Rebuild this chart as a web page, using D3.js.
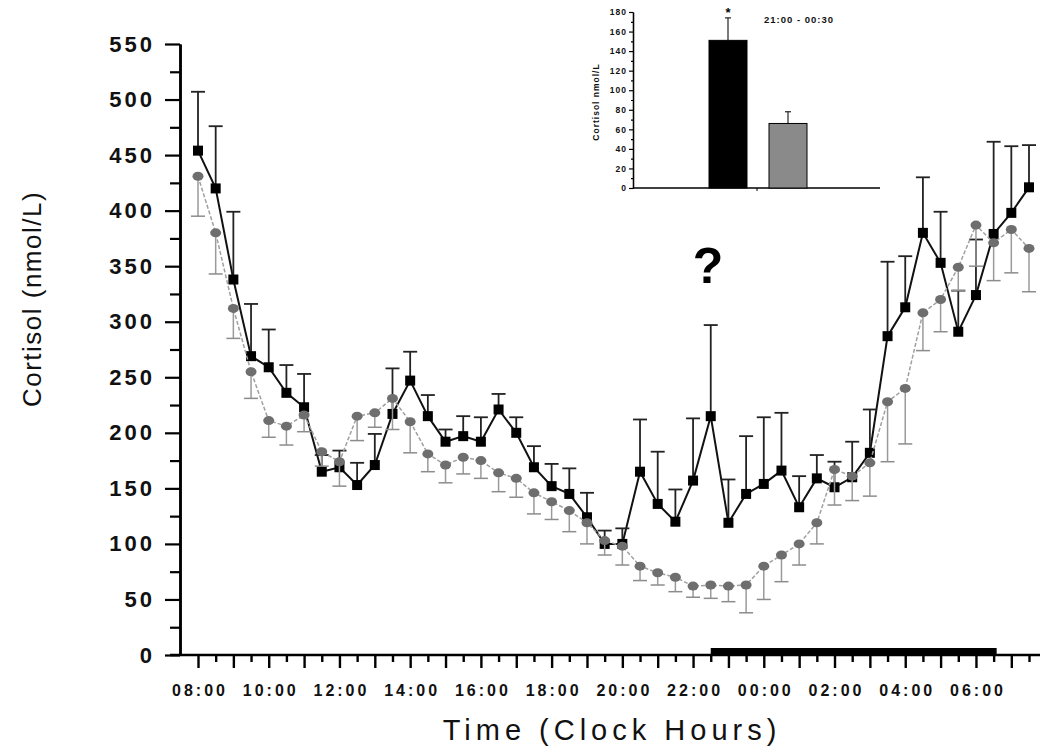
<!DOCTYPE html>
<html>
<head>
<meta charset="utf-8">
<script src="https://cdn.jsdelivr.net/npm/d3@7"></script>
<style>
  body { margin: 0; background: #fff; }
  svg { display: block; font-family: "Liberation Sans", Arial, sans-serif; }
</style>
</head>
<body>
<div id="chart"></div>
<script>
var svgWidth = 1040;
var svgHeight = 746;

// half-hourly sample times
var times = ["08:00","08:30","09:00","09:30","10:00","10:30","11:00","11:30","12:00","12:30",
  "13:00","13:30","14:00","14:30","15:00","15:30","16:00","16:30","17:00","17:30",
  "18:00","18:30","19:00","19:30","20:00","20:30","21:00","21:30","22:00","22:30",
  "23:00","23:30","00:00","00:30","01:00","01:30","02:00","02:30","03:00","03:30",
  "04:00","04:30","05:00","05:30","06:00","06:30","07:00","07:30"];
var xTickLabels = ["08:00","10:00","12:00","14:00","16:00","18:00","20:00","22:00","00:00","02:00","04:00","06:00"];
var yTicks = [0,50,100,150,200,250,300,350,400,450,500,550];

// black squares (mean, top of SE bar)
var deprived = [454,420,338,269,259,236,223,165,169,153,171,217,247,215,192,197,192,221,200,169,
  152,145,124,100,100,165,136,120,157,215,119,145,154,166,133,159,151,160,182,287,
  313,380,353,291,324,379,398,421];
var deprivedTop = [507,476,399,316,293,261,253,180,184,173,199,258,273,234,203,215,214,235,214,188,
  172,168,146,112,114,212,183,149,213,297,158,197,214,218,161,180,174,192,221,354,
  359,430,399,328,374,462,458,459];

// grey circles (mean, bottom of SE bar)
var control = [431,380,312,255,211,206,216,183,174,215,218,231,210,181,171,178,175,164,159,146,
  138,130,119,103,98,80,74,70,62,63,62,63,80,90,100,119,167,161,173,228,
  240,308,320,349,387,371,383,366];
var controlBottom = [395,343,285,231,196,189,201,170,152,193,205,203,182,165,155,163,159,147,142,127,
  122,111,100,90,81,67,63,57,52,51,48,38,50,66,81,100,135,139,143,174,
  190,274,291,328,350,337,344,327];

// sleep period bar on the time axis
var sleepPeriod = ["22:30","06:30"];

// inset: 21:00 - 00:30 averages
var insetGroups = ["deprived","control"];
var insetMeans = [151,66];
var insetTops = [174,78];
var insetTicks = [0,20,40,60,80,100,120,140,160,180];

var svg = d3.select("#chart")
  .append("svg")
  .attr("width", svgWidth)
  .attr("height", svgHeight);

svg.append("rect").attr("width", svgWidth).attr("height", svgHeight).attr("fill", "#fff");

var x = d3.scalePoint().domain(times).range([198, 1029]);
var y = d3.scaleLinear().domain([0, 550]).range([655, 44]);

// ---- y axis
var yMinor = d3.axisLeft(y).tickValues(d3.range(25, 550, 50)).tickSize(10).tickSizeOuter(0).tickFormat("");
var yMajor = d3.axisLeft(y).tickValues(yTicks).tickSize(15).tickSizeOuter(0).tickPadding(13);

svg.append("g").attr("transform", "translate(180,0)").call(yMinor);
var yAxisG = svg.append("g").attr("transform", "translate(180,0)").call(yMajor);
svg.selectAll(".domain").attr("stroke", "#000").attr("stroke-width", 2.5);
svg.selectAll(".tick line").attr("stroke", "#000").attr("stroke-width", 2.2);
yAxisG.selectAll("text")
  .attr("font-size", 22)
  .attr("font-weight", "bold")
  .attr("letter-spacing", "3px")
  .attr("fill", "#111")
  .attr("dx", 3)
  .attr("font-family", "Liberation Sans, Arial, sans-serif");

// ---- x axis
svg.append("line")
  .attr("x1", 170).attr("x2", 1040)
  .attr("y1", 655).attr("y2", 655)
  .attr("stroke", "#000").attr("stroke-width", 2.5);

var xAxisG = svg.append("g").attr("transform", "translate(0,655)")
  .call(d3.axisBottom(x).tickValues(times).tickSizeOuter(0)
    .tickFormat(d => xTickLabels.indexOf(d) >= 0 ? d : ""));
xAxisG.select(".domain").remove();
xAxisG.selectAll(".tick line")
  .attr("y2", d => d.slice(3) === "00" ? 13 : 7)
  .attr("stroke", "#000").attr("stroke-width", 2.4);
xAxisG.selectAll(".tick text")
  .attr("y", 30)
  .attr("dx", 1.5)
  .attr("font-size", 16)
  .attr("font-weight", "bold")
  .attr("letter-spacing", "3px")
  .attr("fill", "#111")
  .attr("font-family", "Liberation Sans, Arial, sans-serif");

// sleep bar
svg.append("rect")
  .attr("x", x(sleepPeriod[0]))
  .attr("y", 648)
  .attr("width", x(sleepPeriod[1]) + 3 - x(sleepPeriod[0]))
  .attr("height", 8)
  .attr("fill", "#000");

// ---- axis titles
svg.append("text")
  .attr("transform", "translate(41,299) rotate(-90)")
  .attr("text-anchor", "middle")
  .attr("font-size", 26)
  .attr("letter-spacing", "1.5px")
  .attr("fill", "#111")
  .text("Cortisol (nmol/L)");

svg.append("text")
  .attr("x", 612)
  .attr("y", 740)
  .attr("text-anchor", "middle")
  .attr("font-size", 29)
  .attr("letter-spacing", "5px")
  .attr("fill", "#111")
  .text("Time (Clock Hours)");

// ---- grey series (control)
var grey = svg.append("g");
grey.append("path")
  .datum(times)
  .attr("fill", "none")
  .attr("stroke", "#a0a0a0")
  .attr("stroke-width", 1.5)
  .attr("stroke-dasharray", "4,2")
  .attr("d", d3.line().x(d => x(d)).y((d, i) => y(control[i])));

grey.selectAll("line.err")
  .data(times)
  .enter()
  .append("line")
  .attr("x1", d => x(d)).attr("x2", d => x(d))
  .attr("y1", (d, i) => y(control[i])).attr("y2", (d, i) => y(controlBottom[i]))
  .attr("stroke", "#9a9a9a").attr("stroke-width", 1.5);

grey.selectAll("line.cap")
  .data(times)
  .enter()
  .append("line")
  .attr("x1", d => x(d) - 7).attr("x2", d => x(d) + 7)
  .attr("y1", (d, i) => y(controlBottom[i])).attr("y2", (d, i) => y(controlBottom[i]))
  .attr("stroke", "#8c8c8c").attr("stroke-width", 1.5);

// ---- black series (deprived)
var black = svg.append("g");
black.append("path")
  .datum(times)
  .attr("fill", "none")
  .attr("stroke", "#111")
  .attr("stroke-width", 2)
  .attr("d", d3.line().x(d => x(d)).y((d, i) => y(deprived[i])));

black.selectAll("line.err")
  .data(times)
  .enter()
  .append("line")
  .attr("x1", d => x(d)).attr("x2", d => x(d))
  .attr("y1", (d, i) => y(deprived[i])).attr("y2", (d, i) => y(deprivedTop[i]))
  .attr("stroke", "#222").attr("stroke-width", 1.8);

black.selectAll("line.cap")
  .data(times)
  .enter()
  .append("line")
  .attr("x1", d => x(d) - 7).attr("x2", d => x(d) + 7)
  .attr("y1", (d, i) => y(deprivedTop[i])).attr("y2", (d, i) => y(deprivedTop[i]))
  .attr("stroke", "#222").attr("stroke-width", 1.8);

black.selectAll("rect")
  .data(times)
  .enter()
  .append("rect")
  .attr("x", d => x(d) - 5)
  .attr("y", (d, i) => y(deprived[i]) - 5)
  .attr("width", 10).attr("height", 10)
  .attr("fill", "#000");

grey.raise();
grey.selectAll("ellipse")
  .data(times)
  .enter()
  .append("ellipse")
  .attr("cx", d => x(d))
  .attr("cy", (d, i) => y(control[i]))
  .attr("rx", 5.5).attr("ry", 4.5)
  .attr("fill", "#6e6e6e");

// ---- question mark
svg.append("text")
  .attr("x", 708)
  .attr("y", 283)
  .attr("text-anchor", "middle")
  .attr("font-size", 50)
  .attr("font-weight", "bold")
  .attr("fill", "#000")
  .text("?");

// ---- inset bar chart
var iy = d3.scaleLinear().domain([0, 180]).range([188, 12]);
var ix = d3.scalePoint().domain(insetGroups).range([728, 788]);
var inset = svg.append("g");

var iyAxis = inset.append("g").attr("transform", "translate(633,0)")
  .call(d3.axisLeft(iy).tickValues(insetTicks).tickSize(4).tickSizeOuter(0).tickPadding(2));
inset.append("g").attr("transform", "translate(633,0)")
  .call(d3.axisLeft(iy).tickValues(d3.range(10, 180, 20)).tickSize(2).tickSizeOuter(0).tickFormat(""));
inset.selectAll(".domain").attr("stroke", "#000").attr("stroke-width", 1.3);
inset.selectAll(".tick line").attr("stroke", "#000").attr("stroke-width", 1.2);
iyAxis.selectAll("text")
  .attr("font-size", 8.5)
  .attr("font-weight", "bold")
  .attr("letter-spacing", "1px")
  .attr("fill", "#111")
  .attr("font-family", "Liberation Sans, Arial, sans-serif");

inset.append("line")
  .attr("x1", 633).attr("x2", 880)
  .attr("y1", 188).attr("y2", 188)
  .attr("stroke", "#000").attr("stroke-width", 1.3);
inset.append("line")
  .attr("x1", 757).attr("x2", 757)
  .attr("y1", 188).attr("y2", 191)
  .attr("stroke", "#000").attr("stroke-width", 1);

inset.selectAll("line.ierr")
  .data(insetGroups)
  .enter()
  .append("line")
  .attr("x1", d => ix(d)).attr("x2", d => ix(d))
  .attr("y1", (d, i) => iy(insetMeans[i])).attr("y2", (d, i) => iy(insetTops[i]))
  .attr("stroke", "#333").attr("stroke-width", 1.3);
inset.selectAll("line.icap")
  .data(insetGroups)
  .enter()
  .append("line")
  .attr("x1", d => ix(d) - 3).attr("x2", d => ix(d) + 3)
  .attr("y1", (d, i) => iy(insetTops[i])).attr("y2", (d, i) => iy(insetTops[i]))
  .attr("stroke", "#333").attr("stroke-width", 1.3);

inset.selectAll("rect")
  .data(insetGroups)
  .enter()
  .append("rect")
  .attr("x", d => ix(d) - 19)
  .attr("y", (d, i) => iy(insetMeans[i]))
  .attr("width", 38)
  .attr("height", (d, i) => iy(0) - iy(insetMeans[i]))
  .attr("fill", (d, i) => i === 0 ? "#000" : "#8a8a8a")
  .attr("stroke", "#000")
  .attr("stroke-width", 1);

inset.append("text")
  .attr("x", ix("deprived"))
  .attr("y", 17)
  .attr("text-anchor", "middle")
  .attr("font-size", 13)
  .attr("font-weight", "bold")
  .text("*");

inset.append("text")
  .attr("x", 799)
  .attr("y", 23)
  .attr("text-anchor", "middle")
  .attr("font-size", 9.5)
  .attr("font-weight", "bold")
  .attr("letter-spacing", "1px")
  .attr("fill", "#111")
  .text("21:00 - 00:30");

inset.append("text")
  .attr("transform", "translate(599,102) rotate(-90)")
  .attr("text-anchor", "middle")
  .attr("font-size", 8.5)
  .attr("font-weight", "bold")
  .attr("letter-spacing", "1px")
  .attr("fill", "#111")
  .text("Cortisol nmol/L");
</script>
</body>
</html>
